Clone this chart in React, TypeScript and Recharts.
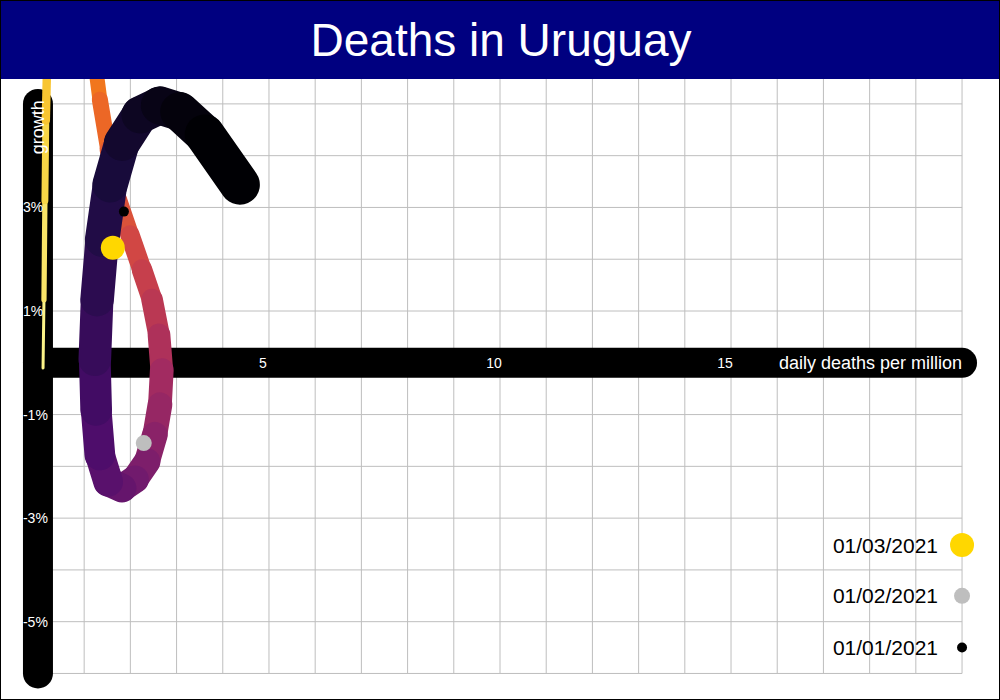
import React from "react";
import { ComposedChart, Line, Scatter, XAxis, YAxis } from "recharts";

// trajectory: daily deaths per million (x) vs growth % (y), in time order
const pathX = [0.11,0.13,0.15,0.17,0.22,0.26,0.58,0.91,1.17,1.34,1.52,1.73,1.99,2.25,2.47,2.62,2.68,2.64,2.53,2.36,2.1,1.82,1.52,1.34,1.26,1.23,1.28,1.39,1.56,1.82,2.21,2.64,3.07,3.61,4.37];
const pathY = [-0.1,1.22,3.13,4.68,6.63,8.17,8.75,7.79,6.24,5.08,4.12,3.15,2.47,1.8,1.22,0.54,-0.14,-0.81,-1.39,-1.91,-2.25,-2.42,-2.3,-1.78,-0.91,0.06,1.22,2.38,3.44,4.25,4.79,4.97,4.85,4.41,3.44];

const markDates = ["01/03/2021", "01/02/2021", "01/01/2021"];
const markX = [1.62, 2.29, 1.86];
const markY = [2.22, -1.55, 2.92];
const markColors = ["#FFD700", "#BEBEBE", "#000000"];
const markR = [12, 8, 5];
const legendY = [-3.52, -4.5, -5.5];

const xTickValues = [5, 10, 15];
const yTickValues = [3, 1, -1, -3, -5];
const gridX = Array.from({ length: 20 }, (_, i) => i + 1);
const gridY = Array.from({ length: 12 }, (_, i) => i - 6);

const inferno = ["#000004","#1b0c41","#4a0c6b","#781c6d","#a52c60","#cf4446","#ed6925","#fb9b06","#f7d13d","#fcffa4"];
function hex(c: string) { return [1,3,5].map(k => parseInt(c.slice(k, k + 2), 16)); }
function infernoAt(t: number) {
  const p = Math.max(0, Math.min(0.999, t)) * (inferno.length - 1);
  const i = Math.floor(p), f = p - i;
  const a = hex(inferno[i]), b = hex(inferno[i + 1]);
  const m = a.map((v, k) => Math.round(v + (b[k] - v) * f));
  return `rgb(${m[0]},${m[1]},${m[2]})`;
}

const n = pathX.length - 1;
const segments = Array.from({ length: n }, (_, i) => {
  const s = i / (n - 1);
  return {
    data: [{ x: pathX[i], y: pathY[i] }, { x: pathX[i + 1], y: pathY[i + 1] }],
    color: infernoAt(0.97 * Math.pow(1 - s, 1.2)),
    width: 3 + 37 * Math.pow(s, 0.8),
  };
});

const xTickData = xTickValues.map(v => ({ x: v, y: 0, label: String(v) }));
const yTickData = yTickValues.map(v => ({ x: 0, y: v, label: `${v}%` }));
const markData = markX.map((x, i) => ({ x, y: markY[i], i }));
const legendData = markDates.map((d, i) => ({ x: 20, y: legendY[i], i, label: d }));

const lp = { dot: false, activeDot: false, isAnimationActive: false, type: "linear" as const, dataKey: "y", legendType: "none" as const };

export default function App() {
  return (
    <div style={{ position: "absolute", left: 0, top: 0, width: 1000, height: 700, background: "#fff", border: "1px solid #000", boxSizing: "border-box", overflow: "hidden", fontFamily: "'Liberation Sans', Arial, sans-serif" }}>
      <div style={{ position: "absolute", left: 0, top: 0, width: 1000, height: 78, background: "#000080", color: "#fff", fontSize: 46, textAlign: "center", lineHeight: "78px", zIndex: 2 }}>Deaths in Uruguay</div>
      <div style={{ position: "absolute", left: -1, top: -1 }}>
        <ComposedChart width={1000} height={700} margin={{ top: 78, bottom: 11, left: 1, right: 1 }}>
          <XAxis type="number" dataKey="x" domain={[-0.8, 20.8]} allowDataOverflow hide />
          <YAxis type="number" dataKey="y" domain={[-6.3, 5.5]} allowDataOverflow hide />
          {gridX.map(g => (
            <Line key={"gx" + g} {...lp} data={[{ x: g, y: -6 }, { x: g, y: 5.6 }]} stroke="#bebebe" strokeWidth={1} />
          ))}
          {gridY.map(g => (
            <Line key={"gy" + g} {...lp} data={[{ x: 0, y: g }, { x: 20, y: g }]} stroke="#bebebe" strokeWidth={1} />
          ))}
          <Line {...lp} data={[{ x: 0, y: 5 }, { x: 0, y: -6 }]} stroke="#000" strokeWidth={30} strokeLinecap="round" />
          <Line {...lp} data={[{ x: 0, y: 0 }, { x: 20, y: 0 }]} stroke="#000" strokeWidth={30} strokeLinecap="round" />
          <Scatter data={xTickData} dataKey="y" isAnimationActive={false} legendType="none"
            shape={(p: any) => <text x={p.cx - 6} y={p.cy} fill="#fff" fontSize={14} textAnchor="middle" dominantBaseline="central">{p.payload.label}</text>} />
          <Scatter data={[{ x: 20, y: 0 }]} dataKey="y" isAnimationActive={false} legendType="none"
            shape={(p: any) => <text x={p.cx} y={p.cy} fill="#fff" fontSize={18} textAnchor="end" dominantBaseline="central">daily deaths per million</text>} />
          <Scatter data={yTickData} dataKey="y" isAnimationActive={false} legendType="none"
            shape={(p: any) => <text x={p.cx - 15} y={p.cy} fill="#fff" fontSize={14} textAnchor="start" dominantBaseline="central">{p.payload.label}</text>} />
          <Scatter data={[{ x: 0, y: 4.55 }]} dataKey="y" isAnimationActive={false} legendType="none"
            shape={(p: any) => <text x={p.cx} y={p.cy} fill="#fff" fontSize={18} textAnchor="middle" dominantBaseline="central" transform={`rotate(-90 ${p.cx} ${p.cy})`}>growth</text>} />
          {segments.map((s, i) => (
            <Line key={"s" + i} {...lp} data={s.data} stroke={s.color} strokeWidth={s.width} strokeLinecap="round" />
          ))}
          <Scatter data={markData} dataKey="y" isAnimationActive={false} legendType="none"
            shape={(p: any) => <circle cx={p.cx} cy={p.cy} r={markR[p.payload.i]} fill={markColors[p.payload.i]} />} />
          <Scatter data={legendData} dataKey="y" isAnimationActive={false} legendType="none"
            shape={(p: any) => (
              <g>
                <circle cx={p.cx} cy={p.cy} r={markR[p.payload.i]} fill={markColors[p.payload.i]} />
                <text x={p.cx - 24} y={p.cy} fill="#000" fontSize={21} textAnchor="end" dominantBaseline="central">{p.payload.label}</text>
              </g>
            )} />
        </ComposedChart>
      </div>
    </div>
  );
}
